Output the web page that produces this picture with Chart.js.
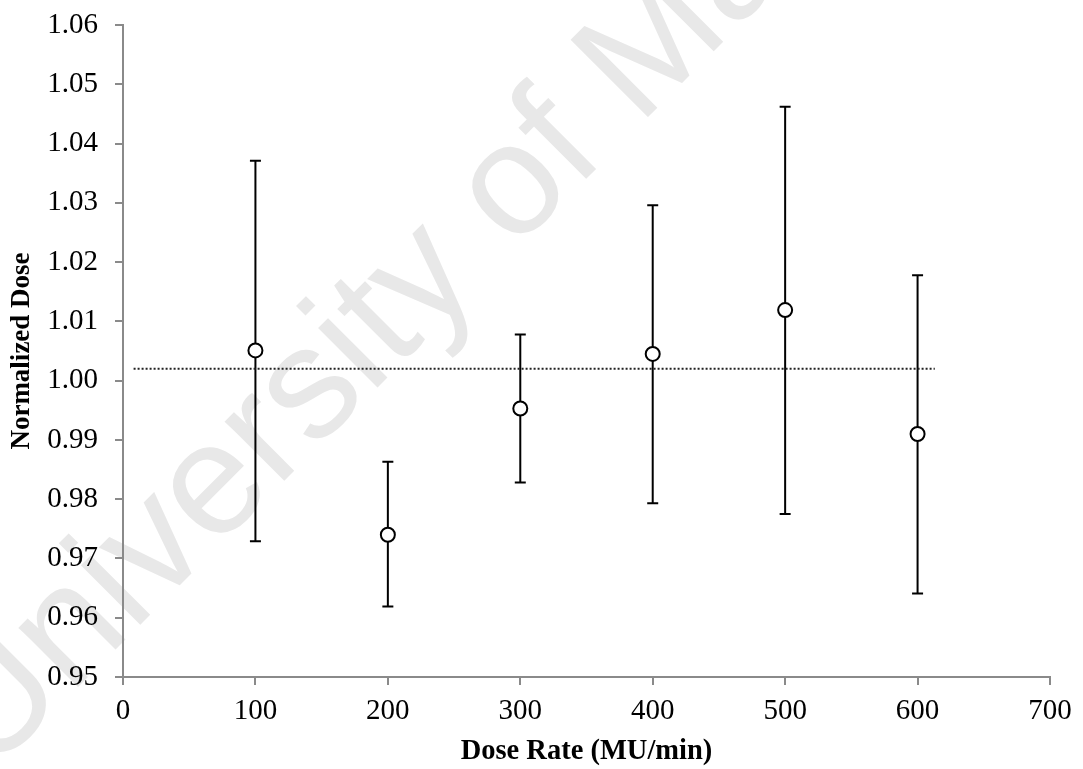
<!DOCTYPE html>
<html>
<head>
<meta charset="utf-8">
<script src="https://cdn.jsdelivr.net/npm/chart.js@4.4.0/dist/chart.umd.min.js"></script>
<style>
    body { margin: 0; background: #fff; }
    #grafica { display: block; }
</style>
</head>
<body>
<canvas id="grafica" width="1083" height="769"></canvas>
<script>
const doseRates = [100, 200, 300, 400, 500, 600];
const normDose = [1.0051, 0.9740, 0.9953, 1.0045, 1.0119, 0.9910];
const upperErr = [1.0371, 0.9863, 1.0078, 1.0296, 1.0462, 1.0178];
const lowerErr = [0.9729, 0.9619, 0.9828, 0.9793, 0.9775, 0.9641];

const refLevel = 1.002;
const refFrom = 8;
const refTo = 613;

const xTicks = [0, 100, 200, 300, 400, 500, 600, 700];
const yTicks = [0.95, 0.96, 0.97, 0.98, 0.99, 1.00, 1.01, 1.02, 1.03, 1.04, 1.05, 1.06];

const axisGray = '#8a8a8a';
const serif = '"Liberation Serif", "Times New Roman", serif';

// faint diagonal text behind everything
const marcaAgua = {
    id: 'marcaAgua',
    beforeDraw(chart) {
        const ctx = chart.ctx;
        ctx.save();
        ctx.translate(-11, 776);
        ctx.rotate(-45 * Math.PI / 180);
        ctx.font = '159px "Liberation Sans", Arial, sans-serif';
        ctx.fillStyle = '#e8e8e8';
        ctx.textBaseline = 'alphabetic';
        ctx.fillText('University of Malaya', 0, 0);
        ctx.restore();
    }
};

// vertical error bars with flat caps, under the markers
const barrasError = {
    id: 'barrasError',
    beforeDatasetsDraw(chart) {
        const ctx = chart.ctx;
        const x = chart.scales.x;
        const y = chart.scales.y;
        ctx.save();
        ctx.strokeStyle = '#000';
        ctx.lineWidth = 2;
        doseRates.forEach((d, i) => {
            const px = x.getPixelForValue(d);
            const top = y.getPixelForValue(upperErr[i]);
            const bot = y.getPixelForValue(lowerErr[i]);
            ctx.beginPath();
            ctx.moveTo(px, top);
            ctx.lineTo(px, bot);
            ctx.moveTo(px - 5.5, top);
            ctx.lineTo(px + 5.5, top);
            ctx.moveTo(px - 5.5, bot);
            ctx.lineTo(px + 5.5, bot);
            ctx.stroke();
        });
        ctx.restore();
    }
};

const puntos = doseRates.map((d, i) => ({ x: d, y: normDose[i] }));

new Chart(document.getElementById('grafica'), {
    type: 'scatter',
    data: {
        datasets: [{
            label: 'Reference',
            type: 'line',
            data: [{ x: refFrom, y: refLevel }, { x: refTo, y: refLevel }],
            borderColor: '#222',
            borderWidth: 2,
            borderDash: [2, 2],
            pointRadius: 0,
            fill: false,
            order: 2
        }, {
            label: 'Normalized Dose',
            data: puntos,
            pointRadius: 7,
            pointBorderWidth: 2,
            pointBackgroundColor: '#fff',
            pointBorderColor: '#000',
            order: 1
        }]
    },
    options: {
        responsive: false,
        devicePixelRatio: 1,
        animation: false,
        layout: { padding: { left: 0, right: 33, top: 25, bottom: 0 } },
        plugins: {
            legend: { display: false },
            tooltip: { enabled: false }
        },
        scales: {
            x: {
                type: 'linear',
                min: 0,
                max: 700,
                afterBuildTicks: s => { s.ticks = xTicks.map(v => ({ value: v })); },
                afterFit: s => {
                    s.height = 92;
                    s.paddingLeft = 0;
                    s.paddingRight = 0;
                },
                border: { color: axisGray, width: 2 },
                grid: { drawOnChartArea: false, color: axisGray, lineWidth: 2, tickLength: 8 },
                ticks: {
                    color: '#000',
                    padding: 9,
                    font: { family: serif, size: 29 }
                },
                title: {
                    display: true,
                    text: 'Dose Rate (MU/min)',
                    color: '#000',
                    padding: { top: 0, bottom: 0 },
                    font: { family: serif, size: 28.5, weight: 'bold' }
                }
            },
            y: {
                min: 0.95,
                max: 1.06,
                afterBuildTicks: s => { s.ticks = yTicks.map(v => ({ value: v })); },
                afterFit: s => {
                    s.width = 123;
                    s.paddingTop = 0;
                    s.paddingBottom = 0;
                },
                border: { color: axisGray, width: 2 },
                grid: { drawOnChartArea: false, color: axisGray, lineWidth: 2, tickLength: 8 },
                ticks: {
                    color: '#000',
                    padding: 17,
                    font: { family: serif, size: 29 },
                    callback: v => v.toFixed(2)
                },
                title: {
                    display: true,
                    text: 'Normalized Dose',
                    color: '#000',
                    padding: { top: 6, bottom: 0 },
                    font: { family: serif, size: 27, weight: 'bold' }
                }
            }
        }
    },
    plugins: [marcaAgua, barrasError]
});
</script>
</body>
</html>
